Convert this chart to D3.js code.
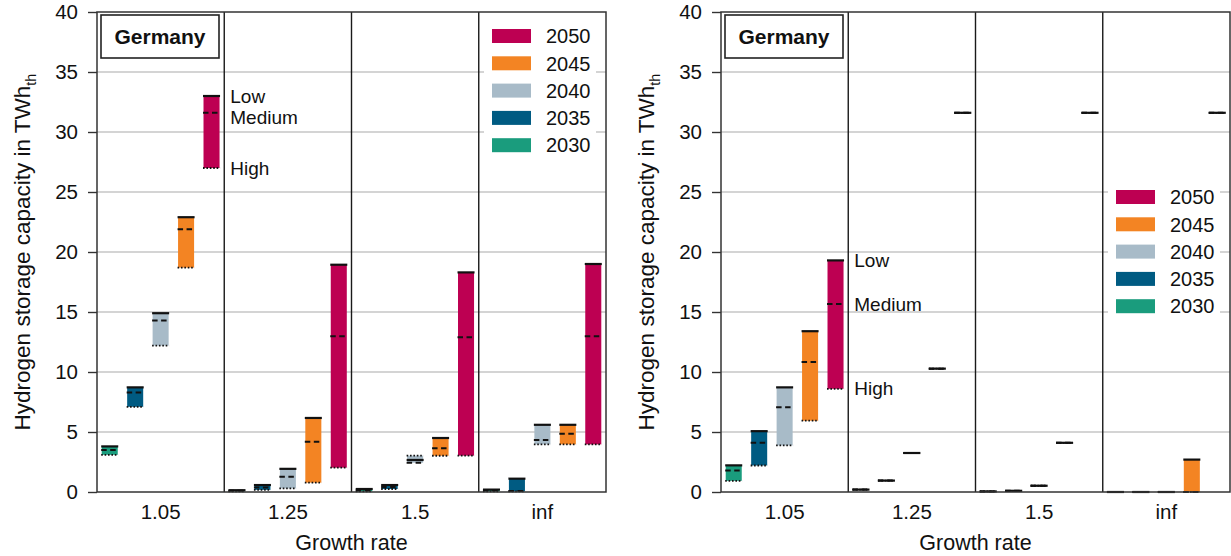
<!DOCTYPE html>
<html>
<head>
<meta charset="utf-8">
<script src="https://cdn.jsdelivr.net/npm/d3@7"></script>
<style>
  html, body { margin: 0; padding: 0; background: #fff; }
  svg { display: block; font-family: "Liberation Sans", Arial, Helvetica, sans-serif; }
</style>
</head>
<body>
<svg id="chart" width="1231" height="556"></svg>
<script>
// Growth-rate groups and target years
const categories = ["1.05", "1.25", "1.5", "inf"];
const years = ["2030", "2035", "2040", "2045", "2050"];
const yearColors = ["#1a9c7d", "#005b82", "#a8bbc8", "#f38423", "#bd0052"];
const yTicks = [0, 5, 10, 15, 20, 25, 30, 35, 40];
const scenarioNames = ["Low", "Medium", "High"];

// Left panel: storage capacity [group][year] in TWh_th per scenario
const leftLow = [
  [3.8, 8.72, 14.9, 22.9, 33.0],
  [0.15, 0.58, 1.93, 6.17, 18.94],
  [0.25, 0.58, 2.67, 4.5, 18.3],
  [0.2, 1.11, 5.6, 5.6, 19.0]
];
const leftMedium = [
  [3.5, 8.3, 14.3, 21.9, 31.6],
  [0.1, 0.38, 1.28, 4.18, 12.97],
  [0.12, 0.42, 2.44, 3.65, 12.9],
  [0.12, 0.08, 4.34, 4.85, 12.97]
];
const leftHigh = [
  [3.1, 7.1, 12.2, 18.7, 27.0],
  [0.05, 0.18, 0.3, 0.78, 2.03],
  [0.05, 0.25, 3.03, 3.02, 3.03],
  [0.05, 0.05, 3.97, 3.97, 3.97]
];

// Right panel
const rightLow = [
  [2.22, 5.07, 8.72, 13.4, 19.3],
  [0.2, 0.95, 3.25, 10.28, 31.6],
  [0.05, 0.1, 0.52, 4.1, 31.6],
  [0, 0, 0, 2.7, 31.6]
];
const rightMedium = [
  [1.8, 4.1, 7.06, 10.83, 15.67],
  [0.2, 0.95, 3.25, 10.28, 31.6],
  [0.05, 0.1, 0.52, 4.1, 31.6],
  [0, 0, 0, 0, 31.6]
];
const rightHigh = [
  [0.93, 2.21, 3.88, 5.94, 8.6],
  [0.2, 0.95, 3.25, 10.28, 31.6],
  [0.05, 0.1, 0.52, 4.1, 31.6],
  [0, 0, 0, 0, 31.6]
];

const svg = d3.select("#chart");
const y = d3.scaleLinear().domain([0, 40]).range([492, 12]);
const color = d3.scaleOrdinal().domain(years).range(yearColors);

const panels = [
  { x0: 97, x1: 606, low: leftLow, medium: leftMedium, high: leftHigh,
    legend: { x: 484, y: 14, w: 112, h: 146 } },
  { x0: 721, x1: 1230, low: rightLow, medium: rightMedium, high: rightHigh,
    legend: { x: 1108, y: 175, w: 112, h: 145 } }
];

const lineStyles = [
  { dash: null, width: 2.2 },       // Low
  { dash: "5.5,3.5", width: 2 },    // Medium
  { dash: "1.6,1.8", width: 1.8 }   // High
];

panels.forEach(p => {
  const g = svg.append("g");
  const x = d3.scaleBand().domain(categories).range([p.x0, p.x1]).padding(0);
  const xi = d3.scaleBand().domain(years).range([0, x.bandwidth()])
    .paddingInner(0.37).paddingOuter(0.185);

  // horizontal gridlines
  g.append("g").selectAll("line")
    .data(yTicks.filter(t => t > 0 && t < 40))
    .join("line")
    .attr("x1", p.x0).attr("x2", p.x1)
    .attr("y1", d => y(d)).attr("y2", d => y(d))
    .attr("stroke", "#c6c6c6").attr("stroke-width", 1.4);

  // legend background hides the gridlines behind it
  const lg = p.legend;
  g.append("rect").attr("x", lg.x).attr("y", lg.y).attr("width", lg.w).attr("height", lg.h)
    .attr("fill", "#fff");

  // floating bars: span of the three scenarios
  const records = [];
  categories.forEach((c, gi) => years.forEach((yr, yi) => {
    records.push({ c, yr, vals: [p.low[gi][yi], p.medium[gi][yi], p.high[gi][yi]] });
  }));

  const bars = g.append("g");
  bars.selectAll("rect").data(records).join("rect")
    .attr("x", d => x(d.c) + xi(d.yr))
    .attr("width", xi.bandwidth())
    .attr("y", d => y(d3.max(d.vals)))
    .attr("height", d => Math.max(0, y(d3.min(d.vals)) - y(d3.max(d.vals))))
    .attr("fill", d => color(d.yr));

  // scenario markers
  lineStyles.forEach((st, si) => {
    bars.append("g").selectAll("line").data(records).join("line")
      .attr("x1", d => x(d.c) + xi(d.yr) - 0.5)
      .attr("x2", d => x(d.c) + xi(d.yr) + xi.bandwidth() + 0.5)
      .attr("y1", d => y(d.vals[si])).attr("y2", d => y(d.vals[si]))
      .attr("stroke", "#111").attr("stroke-width", st.width)
      .attr("stroke-dasharray", st.dash);
  });

  // group separators
  g.append("g").selectAll("line").data(categories.slice(1)).join("line")
    .attr("x1", d => x(d)).attr("x2", d => x(d))
    .attr("y1", y(40)).attr("y2", y(0))
    .attr("stroke", "#1a1a1a").attr("stroke-width", 1.4);

  // plot frame
  g.append("rect").attr("x", p.x0).attr("y", y(40))
    .attr("width", p.x1 - p.x0).attr("height", y(0) - y(40))
    .attr("fill", "none").attr("stroke", "#333").attr("stroke-width", 1.5);

  // y axis
  const ya = g.append("g").attr("transform", `translate(${p.x0},0)`)
    .call(d3.axisLeft(y).tickValues(yTicks).tickSize(9).tickPadding(10));
  ya.select(".domain").remove();
  ya.selectAll(".tick line").attr("stroke", "#333").attr("stroke-width", 1.4);
  ya.selectAll(".tick text").attr("font-size", 20.5).attr("fill", "#111")
    .attr("font-family", null);

  // x axis labels
  const xa = g.append("g").attr("transform", `translate(0,${y(0)})`)
    .call(d3.axisBottom(x).tickSize(0).tickPadding(12));
  xa.select(".domain").remove();
  xa.selectAll(".tick text").attr("font-size", 20.5).attr("fill", "#111")
    .attr("font-family", null);

  // axis titles
  g.append("text").attr("x", (p.x0 + p.x1) / 2).attr("y", 550)
    .attr("text-anchor", "middle").attr("font-size", 21.5).attr("fill", "#111")
    .text("Growth rate");

  const yt = g.append("text")
    .attr("transform", `translate(${p.x0 - 67},${(y(0) + y(40)) / 2}) rotate(-90)`)
    .attr("text-anchor", "middle").attr("font-size", 22.5).attr("fill", "#111");
  yt.append("tspan").text("Hydrogen storage capacity in TWh");
  yt.append("tspan").attr("font-size", 14.5).attr("dy", 6).text("th");

  // region box
  g.append("rect").attr("x", p.x0 + 4).attr("y", 15).attr("width", 118).attr("height", 43)
    .attr("fill", "#fff").attr("stroke", "#222").attr("stroke-width", 1.6);
  g.append("text").attr("x", p.x0 + 63).attr("y", 43.5)
    .attr("text-anchor", "middle").attr("font-size", 21).attr("font-weight", "bold")
    .attr("fill", "#111").text("Germany");

  // scenario labels beside the 2050 bar of the first group
  const last = years.length - 1;
  const sy = [p.low[0][last], p.medium[0][last], p.high[0][last]].map(v => y(v));
  for (let i = 1; i < sy.length; i++) sy[i] = Math.max(sy[i], sy[i - 1] + 21);
  g.append("g").selectAll("text").data(scenarioNames).join("text")
    .attr("x", x(categories[1]) + 6)
    .attr("y", (d, i) => sy[i])
    .attr("dy", "0.35em")
    .attr("font-size", 19).attr("fill", "#111")
    .text(d => d);

  // legend
  const order = years.slice().reverse();
  const li = g.append("g").selectAll("g").data(order).join("g")
    .attr("transform", (d, i) => `translate(${lg.x + 8},${lg.y + 15 + i * 27.3})`);
  li.append("rect").attr("width", 39).attr("height", 14).attr("fill", d => color(d));
  li.append("text").attr("x", 54).attr("y", 7).attr("dy", "0.36em")
    .attr("font-size", 20).attr("fill", "#111").text(d => d);
});
</script>
</body>
</html>
